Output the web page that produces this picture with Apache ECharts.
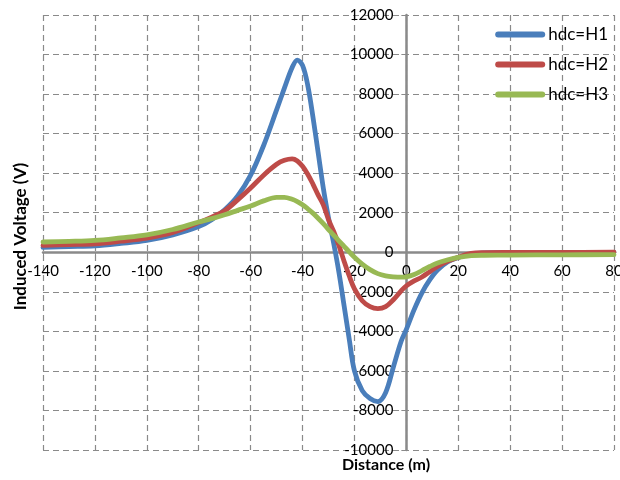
<!DOCTYPE html>
<html>
<head>
<meta charset="utf-8">
<script src="https://cdn.jsdelivr.net/npm/echarts@6/dist/echarts.min.js"></script>
<style>
  html, body { margin: 0; padding: 0; background: #ffffff; }
  #chart { width: 620px; height: 480px; }
</style>
</head>
<body>
<div id="chart"></div>
<script>
// Distance (m)
const distances = [-140,-130,-120,-110,-100,-90,-80,-75,-70,-65,-60,-55,-50,-47,-44,-42,-40,-38,-36,-34,-32,-30,-28,-26,-24,-22,-20,-17,-14,-11,-8,-5,-2,0,3,6,9,12,16,20,25,30,40,60,80];
// Induced voltage (V)
const h1 = [250,290,330,450,600,880,1300,1650,2150,2850,3900,5400,7200,8300,9350,9720,9450,8450,6850,5050,3250,1750,450,-1000,-2700,-4400,-6000,-7000,-7400,-7550,-7100,-5800,-4500,-3900,-2900,-2050,-1400,-900,-480,-260,-80,-30,-20,-10,-5];
const h2 = [350,390,430,560,720,1000,1500,1780,2100,2650,3250,3900,4450,4650,4720,4620,4350,3950,3450,2900,2400,1650,1050,350,-450,-1200,-1850,-2450,-2750,-2850,-2750,-2400,-1950,-1700,-1450,-1250,-980,-720,-450,-250,-60,-20,-10,-5,0];
const h3 = [520,550,600,730,880,1150,1530,1700,1900,2120,2340,2600,2780,2780,2680,2560,2400,2200,1980,1720,1450,1150,870,580,300,20,-250,-600,-880,-1080,-1190,-1240,-1260,-1240,-1120,-930,-720,-540,-380,-260,-170,-150,-140,-130,-120];
const seriesNames = ['hdc=H1','hdc=H2','hdc=H3'];
const xTicks = { min: -140, max: 80, interval: 20 };
const yTicks = { min: -10000, max: 12000, interval: 2000 };

const colors = ['#4A7EBB','#BE4B48','#98B954'];
const font = 'Lato, "Liberation Sans", sans-serif';
const pair = arr => distances.map((d, i) => [d, arr[i]]);
const allData = [h1, h2, h3];

// layout of plot area
const W = 620, H = 480;
const G = { left: 43, right: 6, top: 15, bottom: 30 };
const plotW = W - G.left - G.right, plotH = H - G.top - G.bottom;
// shift axes so they sit on the zero of the other axis
const xAxisOffset = -plotH * (0 - yTicks.min) / (yTicks.max - yTicks.min);
const yAxisOffset = -plotW * (0 - xTicks.min) / (xTicks.max - xTicks.min);

const chart = echarts.init(document.getElementById('chart'), null, { renderer: 'canvas' });
const gridColor = '#8a8a8a';
const splitStyle = { color: gridColor, width: 1.2, type: [6, 4] };
chart.setOption({
  animation: false,
  backgroundColor: '#ffffff',
  grid: { left: G.left, right: G.right, top: G.top, bottom: G.bottom, containLabel: false, outerBoundsMode: 'none' },
  legend: {
    orient: 'vertical', right: 7, top: 21, itemGap: 13,
    itemWidth: 50, itemHeight: 6,
    icon: 'path://M3,0 L47,0 A3,3 0 0 1 47,6 L3,6 A3,3 0 0 1 3,0 Z',
    textStyle: { fontFamily: font, fontSize: 17, color: '#000', padding: [0,0,0,-2] },
    data: seriesNames
  },
  xAxis: [{
    type: 'value', min: xTicks.min, max: xTicks.max, interval: xTicks.interval,
    position: 'bottom', offset: xAxisOffset,
    axisLine: { onZero: false, lineStyle: { color: gridColor, width: 2.5 } },
    axisTick: { show: true, length: 5, lineStyle: { color: gridColor, width: 1 } },
    axisLabel: { fontFamily: font, fontSize: 15, color: '#000', margin: 11, formatter: v => String(v) },
    splitLine: { show: true, lineStyle: splitStyle }
  }],
  yAxis: [{
    type: 'value', min: yTicks.min, max: yTicks.max, interval: yTicks.interval,
    position: 'left', offset: yAxisOffset,
    axisLine: { onZero: false, lineStyle: { color: gridColor, width: 2.5 } },
    axisTick: { show: true, length: 5, lineStyle: { color: gridColor, width: 1 } },
    axisLabel: { fontFamily: font, fontSize: 15, color: '#000', margin: 13, formatter: v => String(v) },
    splitLine: { show: true, lineStyle: splitStyle }
  }, {
    type: 'value', min: yTicks.min, max: yTicks.max, position: 'left', offset: 0,
    name: 'Induced Voltage (V)', nameLocation: 'middle', nameGap: 14, nameRotate: 90,
    nameTextStyle: { fontFamily: font, fontWeight: 'bold', fontSize: 17, color: '#000', padding: [0, 8, 0, 0] },
    axisLine: { show: false }, axisTick: { show: false }, axisLabel: { show: false }, splitLine: { show: false }
  }],
  graphic: [
    { type: 'text', x: 386, y: 465, style: { text: 'Distance (m)', fontFamily: font, fontWeight: 'bold', fontSize: 16, fill: '#000', align: 'center', verticalAlign: 'middle' } }
  ],
  series: allData.map((arr, i) => ({
    name: seriesNames[i], type: 'line', smooth: 0.35, showSymbol: false, symbol: 'none',
    data: pair(arr), lineStyle: { color: colors[i], width: 4.8, cap: 'round', join: 'round' },
    itemStyle: { color: colors[i] }, z: 3 + i
  }))
});
</script>
</body>
</html>
